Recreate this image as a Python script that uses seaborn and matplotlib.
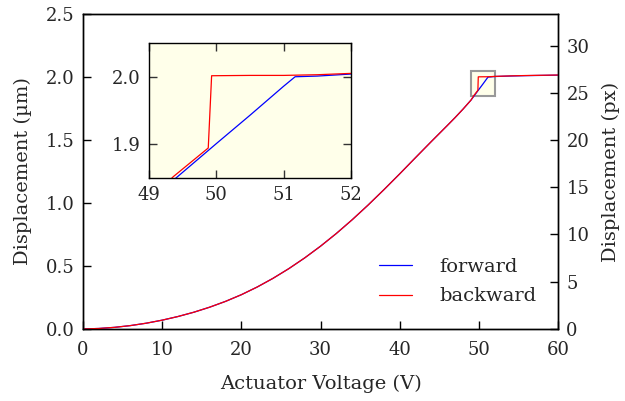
import numpy as np
import pandas as pd
import matplotlib
matplotlib.use("Agg")
import matplotlib.pyplot as plt
from matplotlib.patches import Rectangle
import seaborn as sns

# ---------------- data ----------------
volt_common = [0, 2, 4, 6, 8, 10, 12, 14, 16, 18, 20, 22, 24, 26, 28, 30,
               32, 34, 36, 38, 40, 42, 44, 46, 47, 48, 49]
disp_common = [0.0, 0.004, 0.013, 0.027, 0.046, 0.070, 0.099, 0.133, 0.173,
               0.219, 0.272, 0.333, 0.402, 0.479, 0.564, 0.657, 0.758, 0.867,
               0.983, 1.105, 1.231, 1.360, 1.488, 1.614, 1.678, 1.745, 1.816]

fwd_volt_tail = [49.4, 50.0, 50.5, 51.0, 51.17, 51.5, 52.0, 54, 56, 58, 60]
fwd_disp_tail = [1.850, 1.901, 1.943, 1.986, 2.000, 2.001, 2.004, 2.008,
                 2.011, 2.013, 2.015]

bwd_volt_tail = [49.36, 49.88, 49.93, 50.5, 51.0, 51.5, 52.0, 54, 56, 58, 60]
bwd_disp_tail = [1.852, 1.8945, 2.0015, 2.002, 2.002, 2.003, 2.005, 2.009,
                 2.012, 2.014, 2.016]

series_names = ["forward", "backward"]
px_per_um = 1 / 0.075

x_ticks = [0, 10, 20, 30, 40, 50, 60]
y_ticks = [0.0, 0.5, 1.0, 1.5, 2.0, 2.5]
y2_ticks = [0, 5, 10, 15, 20, 25, 30]
inset_xlim = (49, 52)
inset_ylim = (1.85, 2.05)
inset_xticks = [49, 50, 51, 52]
inset_yticks = [1.9, 2.0]

# ---------------- frame ----------------
fwd = pd.DataFrame({"V": volt_common + fwd_volt_tail,
                    "D": disp_common + fwd_disp_tail, "dir": series_names[0]})
bwd = pd.DataFrame({"V": volt_common + bwd_volt_tail,
                    "D": disp_common + bwd_disp_tail, "dir": series_names[1]})
df = pd.concat([fwd, bwd], ignore_index=True)
palette = {"forward": "#0000ff", "backward": "#ff0000"}

sns.set_style("ticks")
plt.rcParams["font.family"] = ["DejaVu Serif"]
plt.rcParams["mathtext.fontset"] = "dejavuserif"
FS_T = 13
FS_L = 14

fig = plt.figure(figsize=(6.25, 4.01), dpi=100)
ax = fig.add_axes([0.1328, 0.1796, 0.76, 0.7854])

inbox = Rectangle((inset_xlim[0], inset_ylim[0]),
                  inset_xlim[1] - inset_xlim[0], inset_ylim[1] - inset_ylim[0],
                  facecolor="#ffffea", edgecolor="#999999", lw=1.5, zorder=1)
ax.add_patch(inbox)

sns.lineplot(data=df, x="V", y="D", hue="dir", palette=palette, ax=ax,
             sort=False, estimator=None, lw=0.9, zorder=3)

ax.set_xlim(0, 60)
ax.set_ylim(0, 2.5)
ax.set_xticks(x_ticks)
ax.set_yticks(y_ticks)
ax.set_yticklabels([f"{v:.1f}" for v in y_ticks])
ax.tick_params(direction="in", length=6, width=1, labelsize=FS_T, color="black",
               top=False, right=False, pad=6)
ax.tick_params(axis="x", pad=9)
for s in ax.spines.values():
    s.set_color("black")
    s.set_linewidth(1)
ax.set_xlabel("Actuator Voltage (V)", fontsize=FS_L, labelpad=11)
ax.set_ylabel("Displacement (µm)", fontsize=FS_L, labelpad=10)

leg = ax.legend(loc="lower right", frameon=False, fontsize=FS_L,
                handlelength=1.7, bbox_to_anchor=(0.955, 0.075),
                borderaxespad=0, borderpad=0, labelspacing=0.6,
                handletextpad=1.4)
for h in leg.get_lines():
    h.set_linewidth(0.9)

ax2 = ax.twinx()
ax2.set_ylim(0, 2.5 * px_per_um)
ax2.set_yticks(y2_ticks)
ax2.tick_params(direction="in", length=6, width=1, labelsize=FS_T,
                color="black", pad=6)
ax2.set_ylabel("Displacement (px)", fontsize=FS_L, labelpad=9)
for s in ax2.spines.values():
    s.set_color("black")
    s.set_linewidth(1)

# inset
axi = fig.add_axes([0.2384, 0.556, 0.3232, 0.3368])
axi.set_facecolor("#ffffea")
sns.lineplot(data=df, x="V", y="D", hue="dir", palette=palette, ax=axi,
             sort=False, estimator=None, lw=0.9, legend=False)
axi.set_xlim(*inset_xlim)
axi.set_ylim(*inset_ylim)
axi.set_xticks(inset_xticks)
axi.set_yticks(inset_yticks)
axi.set_yticklabels([f"{v:.1f}" for v in inset_yticks])
axi.set_xlabel("")
axi.set_ylabel("")
axi.tick_params(direction="in", length=6, width=1, labelsize=FS_T,
                top=True, right=True, color="#333333", pad=6)
for s in axi.spines.values():
    s.set_color("black")
    s.set_linewidth(1)

fig.savefig("out.png", dpi=100)
